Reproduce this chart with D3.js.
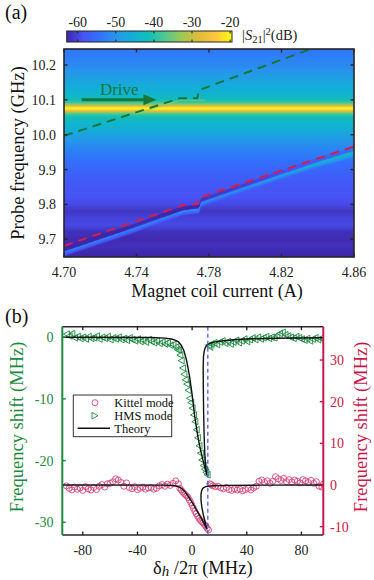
<!DOCTYPE html>
<html><head><meta charset="utf-8">
<script src="https://cdn.jsdelivr.net/npm/d3@7"></script>
<style>
body{margin:0;background:#fff}
svg{display:block}
svg text{font-family:"Liberation Serif","Times New Roman","DejaVu Serif",serif}
</style>
</head><body>
<svg id="chart" width="374" height="580" font-family="Liberation Serif, Times New Roman, serif"></svg>
<script>
// ---------------- Panel (a) data ----------------
const currentTicks = [4.70, 4.74, 4.78, 4.82, 4.86];
const currentTickLabels = ["4.70", "4.74", "4.78", "4.82", "4.86"];
const freqTicks = [9.7, 9.8, 9.9, 10.0, 10.1, 10.2];
const freqTickLabels = ["9.7", "9.8", "9.9", "10.0", "10.1", "10.2"];
const cbTicks = [-60, -50, -40, -30, -20];

// background |S21|^2 profile along frequency (dB)
const bgFreq = [9.649, 9.68, 9.70, 9.72, 9.74, 9.76, 9.78, 9.80, 9.82, 9.85, 9.88, 9.90, 9.92, 9.94, 9.96, 9.98, 10.00, 10.02, 10.04, 10.05, 10.057, 10.063, 10.068, 10.072, 10.075, 10.078, 10.082, 10.086, 10.092, 10.10, 10.115, 10.13, 10.15, 10.17, 10.20, 10.22, 10.246];
const bgDb   = [-63, -62, -62.5, -62, -59.5, -60, -61.5, -59.5, -58.5, -58, -57, -56, -55, -53.5, -52, -50, -47.5, -45, -43, -41.5, -39, -35, -28, -22, -20, -21, -27, -33, -38, -41.5, -44, -45.5, -47, -49, -51.5, -52.5, -54];

// hybrid mode (HMS) line in the map
const hmsLineCurrent = [4.70, 4.72, 4.74, 4.76, 4.766, 4.7745, 4.7755, 4.80, 4.82, 4.84, 4.86];
const hmsLineFreq    = [9.664, 9.699, 9.734, 9.771, 9.782, 9.787, 9.805, 9.849, 9.885, 9.920, 9.952];
const hmsPeakCurrent = [4.70, 4.76, 4.80, 4.83, 4.86];
const hmsPeakDb      = [-52, -51, -49, -46, -41];

// dashed guide lines
const greenDashCurrent = [4.70, 4.764, 4.7735, 4.7745, 4.836];
const greenDashFreq    = [9.997, 10.105, 10.105, 10.128, 10.246];
const redDashCurrent   = [4.70, 4.766, 4.7735, 4.7745, 4.86];
const redDashFreq      = [9.681, 9.798, 9.801, 9.819, 9.966];
const driveTraceCurrent = [4.740, 4.764, 4.778];
const driveTraceFreq    = [10.060, 10.099, 10.099];
const driveArrowCurrent = [4.7098, 4.751];
const driveArrowFreq    = [10.10, 10.10];

// ---------------- Panel (b) data ----------------
const deltaTicks = [-80, -40, 0, 40, 80];
const leftTicks = [0, -10, -20, -30];
const rightTicks = [30, 20, 10, 0, -10];

const hmsDelta = [-92,-90,-88,-86,-84,-82,-80,-78,-76,-74,-72,-70,-68,-66,-64,-62,-60,-58,-56,-54,-52,-50,-48,-46,-44,-42,-40,-38,-36,-34,-32,-30,-28,-26,-24,-22,-20,-18,-16,-14,-12,-11,-10,-9,-8,-7,-6,-5,-4,-3,-2,-1,0,1,2,3,4,5,6,7,8,9,10,11,12,13,14,16,18,20,22,24,26,28,30,32,34,36,38,40,42,44,46,48,50,52,54,56,58,60,62,64,66,68,70,72,74,76,78,80,82,84,86,88,90,92,94,96];
const hmsShift = [0.5,0.2,0.6,-0.1,0.1,-0.2,0.0,-0.3,0.1,-0.2,-0.1,0.2,-0.3,0.0,-0.2,0.1,-0.4,-0.1,-0.3,0.0,-0.4,-0.2,-0.5,-0.1,-0.4,-0.6,-0.3,-0.7,-0.5,-0.8,-0.4,-0.7,-0.9,-0.6,-1.0,-0.8,-1.1,-0.9,-1.3,-1.2,-1.6,-2.0,-2.1,-2.9,-3.8,-5.0,-6.0,-6.9,-7.6,-8.6,-9.9,-10.6,-11.5,-12.6,-13.7,-15.0,-16.3,-17.6,-18.8,-19.9,-20.8,-21.4,-21.9,-22.3,-1.3,-1.6,-1.1,-0.9,-1.2,-0.8,-0.6,-1.0,-0.7,-1.1,-0.8,-0.5,-0.9,-0.6,-0.3,-0.7,-0.4,-0.1,-0.4,0.0,-0.3,-0.1,0.1,-0.2,0.0,-0.1,0.3,0.6,0.8,0.4,0.2,0.0,-0.2,0.1,-0.1,-0.3,-0.5,-0.2,-0.6,-0.3,-0.1,-0.4,-0.2,-0.3];

const kittelDelta = [-92,-90,-88,-86,-84,-82,-80,-78,-76,-74,-72,-70,-68,-66,-64,-62,-60,-58,-56,-54,-52,-50,-48,-46,-44,-42,-40,-38,-36,-34,-32,-30,-28,-26,-24,-22,-20,-18,-16,-14,-12,-10,-9,-8,-7,-6,-5,-4,-3,-2,-1,0,1,2,3,4,5,6,7,8,9,10,11,12,13,14,15,17,19,21,23,25,27,29,31,33,35,37,39,41,43,45,47,49,51,53,55,57,59,61,63,65,67,69,71,73,75,77,79,81,83,85,87,89,91,93,95,96];
const kittelShift = [-0.2,-0.8,-1.2,-0.5,-1.0,-0.7,-1.3,-0.4,-0.9,-1.2,-0.6,-1.1,-0.3,0.1,-0.5,0.3,0.4,0.8,1.5,1.2,0.6,-0.3,0.5,-0.6,-0.9,-0.4,-1.1,-0.8,-0.5,-1.0,-0.7,-0.6,-1.0,-0.8,-0.2,0.1,-0.3,0.2,-0.1,0.4,1.0,0.3,-0.8,-1.2,-1.6,-2.0,-2.3,-2.6,-3.0,-3.6,-4.2,-4.9,-5.6,-6.3,-6.9,-7.5,-8.0,-8.5,-8.8,-9.1,-9.5,-9.9,-10.4,-10.8,0.3,0.1,-0.2,-0.4,-0.3,-0.7,-0.9,-0.6,-1.1,-1.3,-0.9,-1.2,-1.0,-1.4,-1.1,-0.8,-1.2,-0.7,-0.3,0.9,1.2,0.6,1.0,0.4,0.9,2.0,1.5,1.1,1.6,0.8,1.3,0.7,1.2,0.9,0.5,1.3,1.0,0.6,1.1,0.4,0.8,-0.3,-0.5,0.2];

const hmsTheoryDelta = [-95,-30,-20,-15,-12,-10,-8,-6,-4,-2,0,1,2,3,4,5,6,7,8,9,10,10.8,10,9.3,8.8,8.4,8.2,8.1,8.3,8.8,9.6,10.8,13,16,20,30,40,60,96];
const hmsTheoryShift = [0,-0.05,-0.15,-0.3,-0.5,-0.75,-1.3,-2.2,-3.8,-6.2,-9.3,-11.2,-13,-14.4,-15.8,-17,-18.1,-19.1,-20,-20.9,-21.7,-22.4,-21.0,-19,-16,-12,-8,-5,-3.2,-2.3,-1.7,-1.3,-1.0,-0.8,-0.65,-0.42,-0.3,-0.17,-0.08];
const kittelTheoryDelta = [-95,-20,-14,-11,-9,-7,-5,-3,-1,1,3,5,7,9,10.8,9.6,8.2,7.1,6.5,6.5,6.9,7.6,8.5,10,12,16,25,50,96];
const kittelTheoryShift = [0,-0.03,-0.12,-0.3,-0.55,-1.0,-1.7,-2.6,-3.6,-4.7,-5.9,-7.0,-8.2,-9.4,-10.6,-9.0,-7.2,-5.3,-3.6,-2.3,-1.4,-0.9,-0.6,-0.4,-0.28,-0.18,-0.1,-0.04,0];
const resonanceDelta = [11.5];

// parula colormap key colours
const parulaPos = [0, 0.1, 0.2, 0.3, 0.4, 0.5, 0.6, 0.7, 0.8, 0.9, 1];
const parulaCol = ["#3e26a8","#4852f4","#3173fd","#2796eb","#12afd7","#12beb9","#54c98e","#a0c853","#e0bb3a","#fdc63c","#f9fb15"];

// ---------------- drawing ----------------
const svg = d3.select("#chart");
const GREEN = "#1b8a3e", DGREEN = "#17773a", CRIMSON = "#c8184a", AX = "#262626";

const parula = d3.scaleLinear().domain(parulaPos).range(parulaCol).interpolate(d3.interpolateRgb);
const dbToT = d3.scaleLinear().domain([-63, -19.5]).range([0, 1]).clamp(true);

// Panel (a) scales
const xA = d3.scaleLinear().domain([4.70, 4.86]).range([64, 354]);
const yA = d3.scaleLinear().domain([9.649, 10.246]).range([257, 49]);

// heatmap raster
const bg = d3.scaleLinear().domain(bgFreq).range(bgDb);
const lineF = d3.scaleLinear().domain(hmsLineCurrent).range(hmsLineFreq);
const peak = d3.scaleLinear().domain(hmsPeakCurrent).range(hmsPeakDb);
const cols = 320, rows = 300;
const colC = d3.scaleLinear().domain([0, cols]).range(xA.domain());
const rowF = d3.scaleLinear().domain([0, rows]).range([yA.domain()[1], yA.domain()[0]]);
const cv = document.createElement("canvas");
cv.width = cols; cv.height = rows;
const ctx = cv.getContext("2d");
const im = ctx.createImageData(cols, rows);
for (let j = 0; j < rows; j++) {
  const f = rowF(j + 0.5);
  for (let i = 0; i < cols; i++) {
    const c = colC(i + 0.5);
    let v = bg(f);
    const d = f - lineF(c);
    const p = peak(c);
    let vl = d < 0 ? p - (-d) / 0.014 * 10 : p - d / 0.002 * 12;
    v = Math.max(v, vl);
    if (d > 0.001 && d < 0.015) v -= 3 * Math.sin(Math.PI * (d - 0.001) / 0.014);
    const col = d3.rgb(parula(dbToT(v)));
    const k = (j * cols + i) * 4;
    im.data[k] = col.r; im.data[k + 1] = col.g; im.data[k + 2] = col.b; im.data[k + 3] = 255;
  }
}
ctx.putImageData(im, 0, 0);

svg.append("defs").append("clipPath").attr("id", "clipA")
  .append("rect").attr("x", xA(4.70)).attr("y", yA(10.246))
  .attr("width", xA(4.86) - xA(4.70)).attr("height", yA(9.649) - yA(10.246));

svg.append("image").attr("href", cv.toDataURL())
  .attr("x", xA(4.70)).attr("y", yA(10.246))
  .attr("width", xA(4.86) - xA(4.70)).attr("height", yA(9.649) - yA(10.246))
  .attr("preserveAspectRatio", "none");

const gA = svg.append("g").attr("clip-path", "url(#clipA)");
const lineA = (cs, fs) => d3.line().x(d => xA(d[0])).y(d => yA(d[1]))(cs.map((c, i) => [c, fs[i]]));
gA.append("path").attr("d", lineA(driveTraceCurrent, driveTraceFreq))
  .attr("fill", "none").attr("stroke", "#8fd06a").attr("stroke-width", 1).attr("opacity", 0.8);
gA.append("path").attr("d", lineA(greenDashCurrent, greenDashFreq))
  .attr("fill", "none").attr("stroke", DGREEN).attr("stroke-width", 2).attr("stroke-dasharray", "9,6");
gA.append("path").attr("d", lineA(redDashCurrent, redDashFreq))
  .attr("fill", "none").attr("stroke", "#d21e4e").attr("stroke-width", 2).attr("stroke-dasharray", "9,6");

// drive arrow
const ax0 = xA(driveArrowCurrent[0]), ax1 = xA(driveArrowCurrent[1]), ay = yA(driveArrowFreq[0]);
svg.append("line").attr("x1", ax0).attr("x2", ax1 - 9).attr("y1", ay).attr("y2", ay)
  .attr("stroke", DGREEN).attr("stroke-width", 3);
svg.append("path").attr("d", `M${ax1},${ay} L${ax1 - 13},${ay - 5.5} L${ax1 - 13},${ay + 5.5} Z`).attr("fill", DGREEN);
svg.append("text").attr("x", xA(4.7305)).attr("y", yA(10.1) - 5).attr("text-anchor", "middle")
  .attr("font-size", 17).attr("fill", DGREEN).text("Drive");

// frame + ticks (a)
svg.append("rect").attr("x", xA(4.70)).attr("y", yA(10.246))
  .attr("width", xA(4.86) - xA(4.70)).attr("height", yA(9.649) - yA(10.246))
  .attr("fill", "none").attr("stroke", AX).attr("stroke-width", 1.6);
const tA = svg.append("g").attr("stroke", AX).attr("stroke-width", 1.4);
currentTicks.forEach(t => {
  tA.append("line").attr("x1", xA(t)).attr("x2", xA(t)).attr("y1", yA(9.649)).attr("y2", yA(9.649) - 3.5);
  tA.append("line").attr("x1", xA(t)).attr("x2", xA(t)).attr("y1", yA(10.246)).attr("y2", yA(10.246) + 3.5);
});
freqTicks.forEach(t => {
  tA.append("line").attr("x1", xA(4.70)).attr("x2", xA(4.70) + 3.5).attr("y1", yA(t)).attr("y2", yA(t));
  tA.append("line").attr("x1", xA(4.86)).attr("x2", xA(4.86) - 3.5).attr("y1", yA(t)).attr("y2", yA(t));
});
currentTicks.forEach((t, i) => svg.append("text").attr("x", xA(t)).attr("y", 276.5)
  .attr("text-anchor", "middle").attr("font-size", 14).attr("fill", "#222").text(currentTickLabels[i]));
freqTicks.forEach((t, i) => svg.append("text").attr("x", 56).attr("y", yA(t) + 5)
  .attr("text-anchor", "end").attr("font-size", 14).attr("fill", "#222").text(freqTickLabels[i]));
svg.append("text").attr("x", (xA(4.70) + xA(4.86)) / 2 + 8).attr("y", 297)
  .attr("text-anchor", "middle").attr("font-size", 18).attr("fill", "#111").text("Magnet coil current (A)");
svg.append("text").attr("transform", "translate(24,153) rotate(-90)")
  .attr("text-anchor", "middle").attr("font-size", 18.5).attr("fill", "#111").text("Probe frequency (GHz)");
svg.append("text").attr("x", 5).attr("y", 19).attr("font-size", 20).attr("fill", "#111").text("(a)");

// colorbar
const cb = d3.scaleLinear().domain([-62.9, -19.5]).range([66.7, 232]);
const grad = svg.select("defs").append("linearGradient").attr("id", "cbgrad");
d3.range(0, 1.0001, 0.05).forEach(t => grad.append("stop").attr("offset", t).attr("stop-color", parula(dbToT(cb.invert(66.7 + t * (232 - 66.7))))));
svg.append("rect").attr("x", cb(-62.9)).attr("y", 31).attr("width", cb(-19.5) - cb(-62.9)).attr("height", 11)
  .attr("fill", "url(#cbgrad)").attr("stroke", AX).attr("stroke-width", 1);
cbTicks.forEach(t => {
  svg.append("line").attr("x1", cb(t)).attr("x2", cb(t)).attr("y1", 31).attr("y2", 33.5).attr("stroke", AX).attr("stroke-width", 1);
  svg.append("line").attr("x1", cb(t)).attr("x2", cb(t)).attr("y1", 42).attr("y2", 39.5).attr("stroke", AX).attr("stroke-width", 1);
  svg.append("text").attr("x", cb(t)).attr("y", 27).attr("text-anchor", "middle").attr("font-size", 14).attr("fill", "#222").text(t);
});
const cbl = svg.append("text").attr("x", 242).attr("y", 40).attr("font-size", 14.5).attr("fill", "#222");
cbl.append("tspan").text("|");
cbl.append("tspan").attr("font-style", "italic").text("S");
cbl.append("tspan").attr("font-size", 10.5).attr("dy", 3).text("21");
cbl.append("tspan").attr("dy", -3).text("|");
cbl.append("tspan").attr("font-size", 10.5).attr("dy", -5).text("2");
cbl.append("tspan").attr("dy", 5).text("(dB)");

// ---------------- Panel (b) ----------------
const xB = d3.scaleLinear().domain([-95, 96]).range([62.3, 323.3]);
const yL = d3.scaleLinear().domain([-32.06, 1.7]).range([535, 326.7]);
const yR = d3.scaleLinear().domain([-12, 38]).range([535, 326.7]);

svg.select("defs").append("clipPath").attr("id", "clipB")
  .append("rect").attr("x", xB(-95)).attr("y", yL(1.7)).attr("width", xB(96) - xB(-95)).attr("height", yL(-32.06) - yL(1.7));
const gB = svg.append("g").attr("clip-path", "url(#clipB)");

// Kittel circles (right axis)
gB.selectAll("circle.k").data(kittelDelta.map((d, i) => [d, kittelShift[i]])).join("circle")
  .attr("class", "k").attr("cx", d => xB(d[0])).attr("cy", d => yR(d[1])).attr("r", 3)
  .attr("fill", "none").attr("stroke", "#d5457a").attr("stroke-width", 0.9);
// HMS triangles (left axis)
const tri = (x, y) => `M${x - 3},${y} L${x + 3},${y - 3.3} L${x + 3},${y + 3.3} Z`;
gB.selectAll("path.h").data(hmsDelta.map((d, i) => [d, hmsShift[i]])).join("path")
  .attr("class", "h").attr("d", d => tri(xB(d[0]), yL(d[1])))
  .attr("fill", "none").attr("stroke", GREEN).attr("stroke-width", 0.9);
// theory
const lineB = (xs, ys, sy) => d3.line().x(d => xB(d[0])).y(d => sy(d[1]))(xs.map((x, i) => [x, ys[i]]));
gB.append("path").attr("d", lineB(hmsTheoryDelta, hmsTheoryShift, yL)).attr("fill", "none").attr("stroke", "#111").attr("stroke-width", 1.4);
gB.append("path").attr("d", lineB(kittelTheoryDelta, kittelTheoryShift, yR)).attr("fill", "none").attr("stroke", "#111").attr("stroke-width", 1.4);
// resonance line
gB.append("line").attr("x1", xB(resonanceDelta[0])).attr("x2", xB(resonanceDelta[0]))
  .attr("y1", yL(1.7)).attr("y2", yL(-32.06)).attr("stroke", "#3a4cff").attr("stroke-width", 1.2).attr("stroke-dasharray", "4,3");

// frame
const x0 = xB(-95), x1 = xB(96), y0 = yL(1.7), y1 = yL(-32.06);
svg.append("line").attr("x1", x0).attr("x2", x1).attr("y1", y0).attr("y2", y0).attr("stroke", AX).attr("stroke-width", 1.6);
svg.append("line").attr("x1", x0).attr("x2", x1).attr("y1", y1).attr("y2", y1).attr("stroke", AX).attr("stroke-width", 1.6);
svg.append("line").attr("x1", x0).attr("x2", x0).attr("y1", y0).attr("y2", y1).attr("stroke", GREEN).attr("stroke-width", 2);
svg.append("line").attr("x1", x1).attr("x2", x1).attr("y1", y0).attr("y2", y1).attr("stroke", CRIMSON).attr("stroke-width", 2);
deltaTicks.forEach(t => {
  svg.append("line").attr("x1", xB(t)).attr("x2", xB(t)).attr("y1", y1).attr("y2", y1 - 3.5).attr("stroke", AX).attr("stroke-width", 1.4);
  svg.append("line").attr("x1", xB(t)).attr("x2", xB(t)).attr("y1", y0).attr("y2", y0 + 3.5).attr("stroke", AX).attr("stroke-width", 1.4);
  svg.append("text").attr("x", xB(t)).attr("y", 555).attr("text-anchor", "middle").attr("font-size", 14).attr("fill", "#222").text(t);
});
leftTicks.forEach(t => {
  svg.append("line").attr("x1", x0).attr("x2", x0 + 3.5).attr("y1", yL(t)).attr("y2", yL(t)).attr("stroke", GREEN).attr("stroke-width", 1.4);
  svg.append("text").attr("x", 53.5).attr("y", yL(t) + 5).attr("text-anchor", "end").attr("font-size", 14).attr("fill", GREEN).text(t);
});
rightTicks.forEach(t => {
  svg.append("line").attr("x1", x1).attr("x2", x1 - 3.5).attr("y1", yR(t)).attr("y2", yR(t)).attr("stroke", CRIMSON).attr("stroke-width", 1.4);
  svg.append("text").attr("x", 330).attr("y", yR(t) + 5).attr("text-anchor", "start").attr("font-size", 14).attr("fill", CRIMSON).text(t);
});
svg.append("text").attr("transform", `translate(23,${(y0 + y1) / 2 - 4}) rotate(-90)`)
  .attr("text-anchor", "middle").attr("font-size", 18.5).attr("fill", GREEN).text("Frequency shift (MHz)");
svg.append("text").attr("transform", `translate(367,${(y0 + y1) / 2 - 4}) rotate(-90)`)
  .attr("text-anchor", "middle").attr("font-size", 18.5).attr("fill", CRIMSON).text("Frequency shift (MHz)");
const xl = svg.append("text").attr("x", 153).attr("y", 574).attr("font-size", 18.5).attr("fill", "#111");
xl.append("tspan").text("δ");
xl.append("tspan").attr("font-style", "italic").attr("font-size", 15).attr("dy", 2).text("h");
xl.append("tspan").attr("dy", -2).text(" /2π (MHz)");
svg.append("text").attr("x", 5).attr("y", 323).attr("font-size", 20).attr("fill", "#111").text("(b)");

// legend
const lg = svg.append("g");
lg.append("rect").attr("x", 73.3).attr("y", 395).attr("width", 98.4).attr("height", 41.7)
  .attr("fill", "#fff").attr("stroke", "#333").attr("stroke-width", 1);
lg.append("circle").attr("cx", 95).attr("cy", 402.7).attr("r", 3).attr("fill", "none").attr("stroke", "#d5457a").attr("stroke-width", 0.9);
lg.append("path").attr("d", `M${92},${415.7 - 3.3} L${98},${415.7} L${92},${415.7 + 3.3} Z`).attr("fill", "none").attr("stroke", GREEN).attr("stroke-width", 0.9);
lg.append("line").attr("x1", 77.7).attr("x2", 110).attr("y1", 428.3).attr("y2", 428.3).attr("stroke", "#111").attr("stroke-width", 1.4);
[["Kittel mode", 402.7], ["HMS mode", 415.7], ["Theory", 428.3]].forEach(([t, y]) =>
  lg.append("text").attr("x", 114.3).attr("y", y + 4.3).attr("font-size", 12.5).attr("fill", "#111").text(t));
</script>
</body></html>
